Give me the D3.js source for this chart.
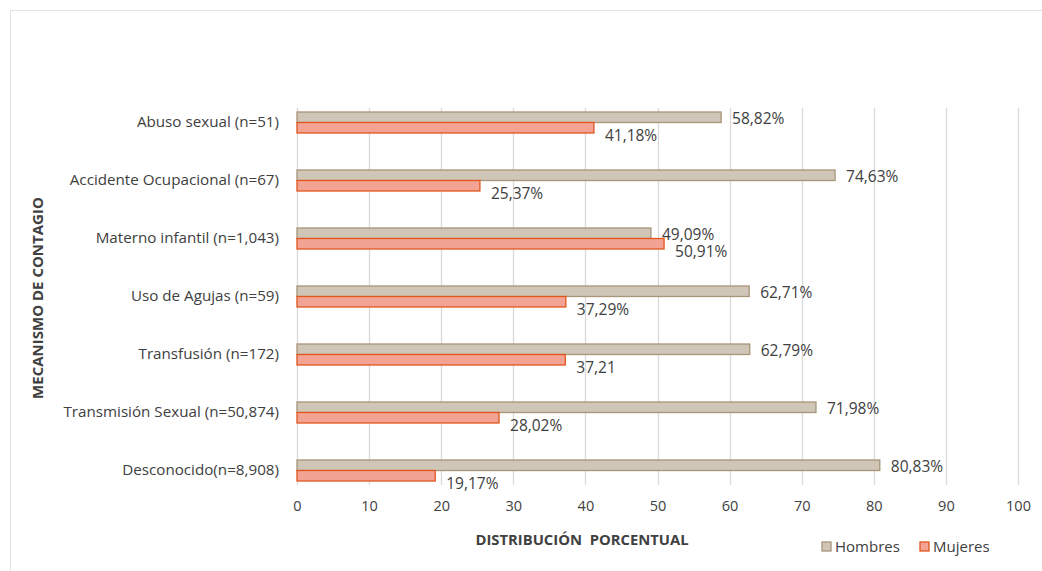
<!DOCTYPE html>
<html>
<head>
<meta charset="utf-8">
<script src="https://cdn.jsdelivr.net/npm/d3@7"></script>
<style>
  html, body { margin: 0; padding: 0; background: #fff; }
  svg { display: block; font-family: "Open Sans", Lato, sans-serif; }
</style>
</head>
<body>
<svg id="chart" width="1042" height="571"></svg>
<script>
// Mecanismo de contagio y distribución porcentual por sexo
const categories = [
  "Abuso sexual (n=51)",
  "Accidente Ocupacional (n=67)",
  "Materno infantil (n=1,043)",
  "Uso de Agujas (n=59)",
  "Transfusión (n=172)",
  "Transmisión Sexual (n=50,874)",
  "Desconocido(n=8,908)"
];
const hombres = [58.82, 74.63, 49.09, 62.71, 62.79, 71.98, 80.83];
const mujeres = [41.18, 25.37, 50.91, 37.29, 37.21, 28.02, 19.17];
const hombresLabels = ["58,82%", "74,63%", "49,09%", "62,71%", "62,79%", "71,98%", "80,83%"];
const mujeresLabels = ["41,18%", "25,37%", "50,91%", "37,29%", "37,21", "28,02%", "19,17%"];
const xTicks = [0, 10, 20, 30, 40, 50, 60, 70, 80, 90, 100];
const seriesNames = ["Hombres", "Mujeres"];

const svg = d3.select("#chart");
const font = "'Open Sans', sans-serif";
const textColor = "#404040";
const gridColor = "#d9d9d9";
const colors = {
  Hombres: { fill: "#d0c6b8", stroke: "#a89478" },
  Mujeres: { fill: "#f2a394", stroke: "#e0561c" }
};

// outer frame
svg.append("rect")
  .attr("x", 10.5).attr("y", 10.5)
  .attr("width", 1040).attr("height", 570)
  .attr("fill", "none").attr("stroke", "#e3e3e3");

const plot = { left: 297, right: 1018, top: 108, bottom: 485 };

const x = d3.scaleLinear().domain([0, 100]).range([plot.left, plot.right]);
const y = d3.scaleBand().domain(categories).range([93.5, 93.5 + 58 * categories.length]).paddingInner(0).paddingOuter(0);

// gridlines
svg.append("g")
  .selectAll("line")
  .data(xTicks)
  .join("line")
  .attr("x1", d => Math.round(x(d)) + 0.5)
  .attr("x2", d => Math.round(x(d)) + 0.5)
  .attr("y1", plot.top)
  .attr("y2", plot.bottom)
  .attr("stroke", gridColor)
  .attr("stroke-width", 1.3);

// x axis tick labels
const xAxis = d3.axisBottom(x).tickValues(xTicks).tickSize(0).tickPadding(0).tickFormat(d3.format("d"));
const gx = svg.append("g").attr("transform", `translate(0, ${plot.bottom + 16})`).call(xAxis);
gx.select(".domain").remove();
gx.selectAll("text")
  .attr("font-size", 14.5)
  .attr("fill", textColor)
  .attr("font-family", font);

// category labels
const gy = svg.append("g").attr("transform", `translate(${plot.left - 18}, 0)`)
  .call(d3.axisLeft(y).tickSize(0).tickPadding(0));
gy.select(".domain").remove();
gy.selectAll("text")
  .attr("font-size", 15.2)
  .attr("fill", textColor)
  .attr("font-family", font)
  .attr("dy", "0.3em");

const barH = 10.5;

// Hombres bars (upper bar of each pair)
svg.append("g")
  .selectAll("rect")
  .data(categories)
  .join("rect")
  .attr("x", x(0))
  .attr("y", d => y(d) + y.bandwidth() / 2 - barH)
  .attr("width", (d, i) => x(hombres[i]) - x(0))
  .attr("height", barH)
  .attr("fill", colors.Hombres.fill)
  .attr("stroke", colors.Hombres.stroke)
  .attr("stroke-width", 1.3);

// Mujeres bars (lower bar of each pair)
svg.append("g")
  .selectAll("rect")
  .data(categories)
  .join("rect")
  .attr("x", x(0))
  .attr("y", d => y(d) + y.bandwidth() / 2)
  .attr("width", (d, i) => x(mujeres[i]) - x(0))
  .attr("height", barH)
  .attr("fill", colors.Mujeres.fill)
  .attr("stroke", colors.Mujeres.stroke)
  .attr("stroke-width", 1.3);

// value labels
svg.append("g")
  .selectAll("text")
  .data(categories)
  .join("text")
  .attr("x", (d, i) => x(hombres[i]) + 11)
  .attr("y", d => y(d) + y.bandwidth() / 2 - 4)
  .attr("dy", "0.35em")
  .attr("font-size", 15.5)
  .attr("fill", textColor)
  .text((d, i) => hombresLabels[i]);

svg.append("g")
  .selectAll("text")
  .data(categories)
  .join("text")
  .attr("x", (d, i) => x(mujeres[i]) + 11)
  .attr("y", d => y(d) + y.bandwidth() / 2 + 13.5)
  .attr("dy", "0.35em")
  .attr("font-size", 15.5)
  .attr("fill", textColor)
  .text((d, i) => mujeresLabels[i]);

// axis titles
svg.append("text")
  .attr("x", 582).attr("y", 545)
  .attr("text-anchor", "middle")
  .attr("font-size", 14.8)
  .attr("font-weight", "bold")
  .attr("fill", textColor)
  .attr("xml:space", "preserve")
  .style("white-space", "pre")
  .text("DISTRIBUCIÓN  PORCENTUAL");

svg.append("text")
  .attr("transform", "translate(43, 298) rotate(-90)")
  .attr("text-anchor", "middle")
  .attr("font-size", 15)
  .attr("font-weight", "bold")
  .attr("fill", textColor)
  .text("MECANISMO DE CONTAGIO");

// legend
const legendItems = [
  { name: seriesNames[0], x: 822 },
  { name: seriesNames[1], x: 920 }
];
const lg = svg.append("g");
legendItems.forEach(item => {
  lg.append("rect")
    .attr("x", item.x).attr("y", 542)
    .attr("width", 9).attr("height", 9)
    .attr("fill", colors[item.name].fill)
    .attr("stroke", colors[item.name].stroke)
    .attr("stroke-width", 1.3);
  lg.append("text")
    .attr("x", item.x + 13).attr("y", 547)
    .attr("dy", "0.35em")
    .attr("font-size", 15)
    .attr("fill", textColor)
    .text(item.name);
});
</script>
</body>
</html>
